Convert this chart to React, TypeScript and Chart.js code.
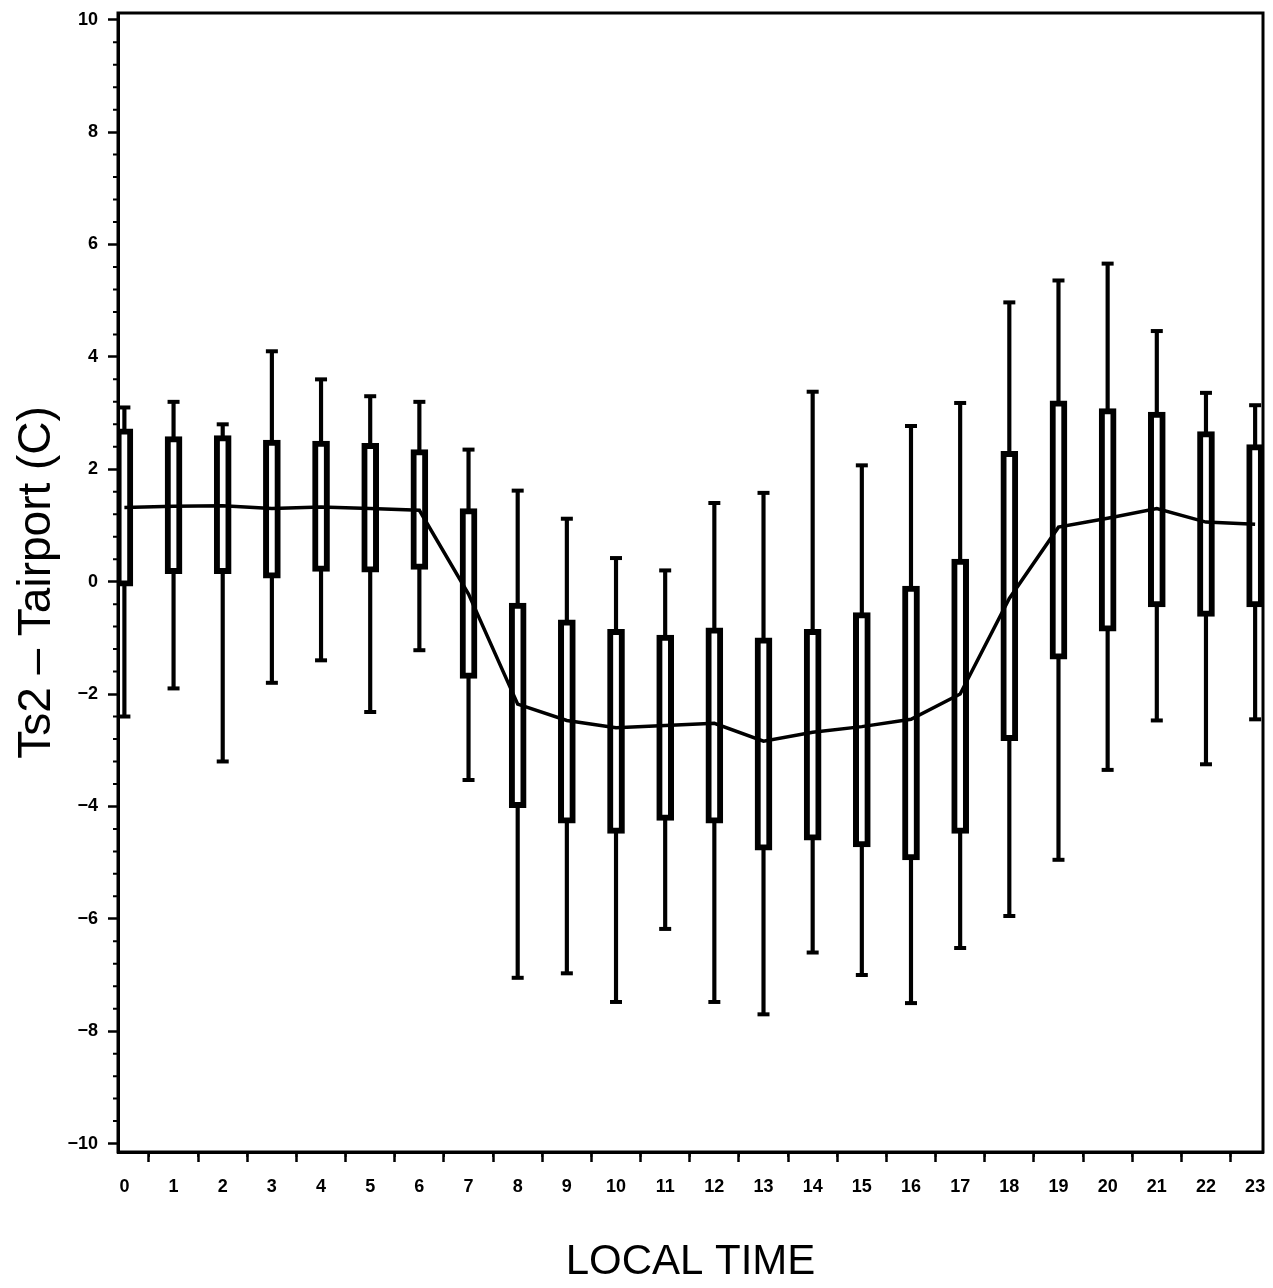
import React, { useEffect, useRef } from 'react';
import { Chart, registerables } from 'chart.js';

Chart.register(...registerables);

// ---- Data ----
const hours = [0, 1, 2, 3, 4, 5, 6, 7, 8, 9, 10, 11, 12, 13, 14, 15, 16, 17, 18, 19, 20, 21, 22, 23];
const maxVals = [3.1, 3.2, 2.8, 4.1, 3.6, 3.3, 3.2, 2.35, 1.62, 1.12, 0.42, 0.2, 1.4, 1.58, 3.38, 2.07, 2.77, 3.18, 4.97, 5.36, 5.66, 4.46, 3.36, 3.14];
const q3Vals = [2.72, 2.58, 2.6, 2.52, 2.5, 2.46, 2.35, 1.3, -0.38, -0.68, -0.85, -0.95, -0.82, -1.0, -0.85, -0.55, -0.08, 0.4, 2.32, 3.22, 3.08, 3.02, 2.67, 2.44];
const q1Vals = [-0.08, 0.14, 0.14, 0.06, 0.18, 0.17, 0.22, -1.72, -4.02, -4.3, -4.48, -4.25, -4.3, -4.78, -4.6, -4.72, -4.95, -4.48, -2.83, -1.38, -0.88, -0.45, -0.62, -0.45];
const minVals = [-2.4, -1.9, -3.2, -1.8, -1.4, -2.32, -1.22, -3.53, -7.05, -6.97, -7.48, -6.18, -7.48, -7.7, -6.6, -7.0, -7.5, -6.52, -5.95, -4.95, -3.35, -2.47, -3.25, -2.45];
const meanVals = [1.32, 1.34, 1.35, 1.3, 1.33, 1.3, 1.27, -0.22, -2.18, -2.47, -2.6, -2.56, -2.52, -2.84, -2.68, -2.58, -2.45, -2.0, -0.3, 0.97, 1.13, 1.3, 1.06, 1.02];

const xTickValues = hours;
const yTickValues = [-10, -8, -6, -4, -2, 0, 2, 4, 6, 8, 10];
const xTitle = 'LOCAL TIME';
const yTitle = 'Ts2 \u2013 Tairport (C)';

const FONT = "'Liberation Sans', Arial, Helvetica, sans-serif";

const framePlugin = {
  id: 'frameAndMinorTicks',
  afterDatasetsDraw(chart: any) {
    const { ctx, chartArea } = chart;
    const { left, right, top, bottom } = chartArea;
    const xs = chart.scales.x;
    const ys = chart.scales.y;
    ctx.save();
    ctx.strokeStyle = '#000';
    ctx.lineWidth = 3;
    ctx.strokeRect(left, top, right - left, bottom - top);
    ctx.lineWidth = 2;
    ctx.beginPath();
    for (let i = -25; i <= 25; i++) {
      if (i % 5 === 0) continue;
      const py = ys.getPixelForValue(i * 0.4);
      ctx.moveTo(left - 5, py);
      ctx.lineTo(left, py);
    }
    for (let k = 0; k < 23; k++) {
      const px = xs.getPixelForValue(k + 0.5);
      ctx.moveTo(px, bottom);
      ctx.lineTo(px, bottom + 5);
    }
    ctx.stroke();
    ctx.restore();
  },
};

export default function App() {
  const ref = useRef<HTMLCanvasElement>(null);

  useEffect(() => {
    const canvas = ref.current;
    if (!canvas) return;
    const chart = new Chart(canvas, {
      type: 'bar',
      data: {
        datasets: [
          {
            type: 'line',
            label: 'mean',
            data: hours.map((h, i) => ({ x: h, y: meanVals[i] })),
            borderColor: '#000',
            borderWidth: 3.5,
            pointRadius: 0,
            tension: 0,
            order: 0,
          } as any,
          {
            type: 'bar',
            label: 'box',
            data: hours.map((h, i) => ({ x: h, y: [q1Vals[i], q3Vals[i]] })),
            backgroundColor: '#fff',
            borderColor: '#000',
            borderWidth: 6,
            borderSkipped: false,
            barThickness: 17,
            grouped: false,
            order: 1,
          } as any,
          {
            type: 'line',
            label: 'caps',
            data: [
              ...hours.map((h, i) => ({ x: h, y: maxVals[i] })),
              ...hours.map((h, i) => ({ x: h, y: minVals[i] })),
            ],
            showLine: false,
            pointStyle: 'line',
            pointRadius: 6,
            pointBorderWidth: 4,
            pointBorderColor: '#000',
            borderColor: '#000',
            order: 2,
          } as any,
          {
            type: 'bar',
            label: 'whisker',
            data: hours.map((h, i) => ({ x: h, y: [minVals[i], maxVals[i]] })),
            backgroundColor: '#000',
            borderWidth: 0,
            barThickness: 3.5,
            grouped: false,
            order: 3,
          } as any,
        ],
      },
      options: {
        animation: false,
        responsive: false,
        devicePixelRatio: 1,
        layout: { padding: { top: 13, right: 7, left: 0, bottom: 0 } },
        plugins: {
          legend: { display: false },
          tooltip: { enabled: false },
        },
        scales: {
          x: {
            type: 'linear',
            min: -0.13,
            max: 23.16,
            offset: false,
            afterBuildTicks: (s: any) => {
              s.ticks = xTickValues.map((v) => ({ value: v }));
            },
            afterFit: (s: any) => {
              s.height = 136;
              s.paddingLeft = 0;
              s.paddingRight = 0;
            },
            ticks: {
              autoSkip: false,
              maxRotation: 0,
              color: '#000',
              padding: 14,
              font: { family: FONT, size: 18, weight: 'bold' },
              callback: (v: any) => String(v),
            },
            grid: {
              drawOnChartArea: false,
              drawTicks: true,
              tickLength: 10,
              tickWidth: 2.5,
              tickColor: '#000',
            },
            border: { display: true, color: '#000', width: 3 },
            title: {
              display: true,
              text: xTitle,
              color: '#000',
              font: { family: FONT, size: 42, lineHeight: 1.2 },
              padding: { top: 0, bottom: 0 },
            },
          },
          y: {
            type: 'linear',
            min: -10.15,
            max: 10.12,
            afterBuildTicks: (s: any) => {
              s.ticks = yTickValues.map((v) => ({ value: v }));
            },
            afterFit: (s: any) => {
              s.width = 118;
              s.paddingTop = 0;
              s.paddingBottom = 0;
            },
            ticks: {
              color: '#000',
              padding: 10,
              font: { family: FONT, size: 18, weight: 'bold' },
              callback: (v: any) => (v < 0 ? '\u2212' + Math.abs(v) : String(v)),
            },
            grid: {
              drawOnChartArea: false,
              drawTicks: true,
              tickLength: 10,
              tickWidth: 2.5,
              tickColor: '#000',
            },
            border: { display: true, color: '#000', width: 3 },
            title: {
              display: true,
              text: yTitle,
              color: '#000',
              font: { family: FONT, size: 46, lineHeight: 1.2 },
              padding: { top: 10, bottom: 0 },
            },
          },
        },
      } as any,
      plugins: [framePlugin],
    });
    return () => chart.destroy();
  }, []);

  return (
    <div style={{ position: 'absolute', left: 0, top: 0, width: 1273, height: 1288, background: '#fff' }}>
      <canvas ref={ref} width={1273} height={1288} style={{ display: 'block', width: 1273, height: 1288 }} />
    </div>
  );
}
